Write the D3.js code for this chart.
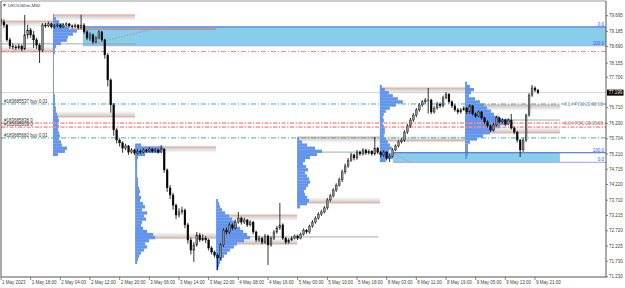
<!DOCTYPE html>
<html><head><meta charset="utf-8">
<script src="https://cdn.jsdelivr.net/npm/d3@7"></script>
<style>body{margin:0;background:#fff;} svg{display:block;} text{font-family:"Liberation Sans",Arial,sans-serif;}</style>
</head><body><svg id="c" width="625" height="288"></svg>
<script>
// ---------------- DATA ----------------
const symbolTitle = "UKOUSDm,M30";
const timeLabels = ["1 May 2023","1 May 18:00","2 May 04:00","2 May 12:00","2 May 20:00","3 May 06:00","3 May 14:00","3 May 22:00","4 May 08:00","4 May 16:00","5 May 00:00","5 May 10:00","5 May 18:00","8 May 03:00","8 May 11:00","8 May 19:00","9 May 05:00","9 May 13:00","9 May 21:00"];
const priceTicks = [79.695,79.185,78.690,78.155,77.700,76.710,76.200,75.704,75.210,74.715,74.220,73.710,73.215,72.720,72.225,71.730,71.230];
const priceTickLabels = ["79.695","79.185","78.690","78.155","77.700","76.710","76.200","75.704","75.210","74.715","74.220","73.710","73.215","72.720","72.225","71.730","71.230"];
const firstOpen = 79.55;
const closes = [
79.49,79.39,78.91,78.71,78.68,78.65,78.71,78.61,79.07,79.23,
79.07,78.91,78.74,78.58,79.39,79.36,79.43,79.33,79.36,79.39,
79.33,79.39,79.43,79.36,79.33,79.39,79.30,79.39,79.17,78.97,
79.07,78.84,78.97,79.17,78.91,78.42,77.61,76.80,75.99,75.66,
75.57,75.40,75.47,75.27,75.34,75.24,75.30,75.27,75.34,75.30,
75.37,75.30,75.34,75.27,75.37,74.69,74.11,73.88,73.55,73.23,
73.33,73.39,72.91,72.42,72.09,72.26,72.58,72.42,72.48,72.42,
72.16,72.03,71.93,71.84,72.26,72.74,72.68,72.91,72.81,73.00,
73.13,73.00,73.07,72.91,73.00,72.68,72.42,72.48,72.35,72.55,
72.26,72.48,72.68,72.81,72.91,72.48,72.35,72.42,72.48,72.55,
72.48,72.61,72.74,72.68,72.87,73.00,73.13,73.26,73.33,73.46,
73.72,73.85,74.04,74.20,74.37,74.63,74.82,75.01,75.18,75.08,
75.27,75.21,75.34,75.24,75.30,75.21,75.40,75.27,75.18,75.27,
75.08,75.14,75.34,75.47,75.60,75.66,75.92,76.12,76.31,76.47,
76.64,76.80,76.90,76.96,76.96,76.57,76.70,76.83,76.77,77.03,
77.15,76.90,76.77,76.64,76.57,76.64,76.70,76.57,76.77,76.51,
76.44,76.57,76.38,76.25,76.12,75.99,76.15,76.38,76.25,76.31,
76.18,76.31,76.05,75.92,75.66,75.34,75.66,76.47,77.12,77.35,
77.28,77.20];
const highs = [
79.62,79.58,79.42,78.98,78.80,78.75,78.78,78.76,79.72,79.40,
79.30,79.20,78.98,78.80,79.45,79.46,79.50,79.47,79.42,79.45,
79.43,79.44,79.48,79.46,79.41,79.44,79.42,79.72,79.45,79.22,
79.15,79.12,79.03,79.22,79.20,78.95,78.48,77.66,76.86,76.05,
75.72,75.62,75.54,75.50,75.40,75.38,75.36,75.35,75.39,75.37,
75.42,75.40,75.39,75.37,75.50,75.40,74.74,74.20,73.95,73.60,
73.45,73.50,73.44,72.98,72.50,72.35,72.68,72.65,72.60,72.55,
72.46,72.22,72.08,71.98,72.32,72.80,72.82,72.98,72.96,73.08,
73.33,73.18,73.14,73.10,73.06,73.04,72.72,72.56,72.52,72.62,
72.60,72.54,72.74,72.88,73.62,72.96,72.52,72.48,72.54,72.60,
72.60,72.66,72.80,72.78,72.92,73.06,73.19,73.32,73.40,73.52,
73.78,73.92,74.10,74.26,74.44,74.70,74.90,75.08,75.25,75.22,
75.34,75.32,75.40,75.38,75.36,75.34,75.76,75.44,75.31,75.33,
75.30,75.20,75.40,75.52,75.66,75.72,75.98,76.18,76.38,76.54,
76.70,76.86,76.96,77.02,77.35,77.00,76.76,76.90,76.88,77.10,
77.22,77.18,76.95,76.82,76.70,76.70,76.76,76.74,76.82,76.80,
76.56,76.62,76.60,76.42,76.30,76.16,76.22,76.44,76.42,76.37,
76.35,76.36,76.51,76.10,75.96,75.70,75.72,76.52,77.18,77.45,
77.40,77.32];
const lows = [
79.40,79.30,78.85,78.62,78.60,78.58,78.60,78.55,78.58,78.95,
78.98,78.65,78.62,78.16,78.52,79.30,79.32,79.28,79.28,79.32,
79.28,79.30,79.35,79.31,79.27,79.29,79.24,79.25,79.10,78.90,
78.88,78.78,78.80,78.93,78.85,78.30,77.40,76.55,75.80,75.55,
75.45,75.25,75.33,75.18,75.22,75.18,75.20,75.21,75.23,75.25,
75.26,75.25,75.26,75.22,75.24,74.60,73.98,73.75,73.40,73.10,
73.15,73.25,72.80,72.30,71.95,71.71,72.20,72.35,72.38,72.32,
72.08,71.95,71.85,71.45,71.78,72.20,72.60,72.62,72.74,72.76,
72.95,72.92,72.94,72.84,72.86,72.60,72.35,72.36,72.28,72.30,
71.61,72.20,72.42,72.62,72.75,72.42,72.28,72.30,72.38,72.44,
72.42,72.44,72.56,72.62,72.63,72.82,72.95,73.08,73.20,73.28,
73.40,73.66,73.80,73.98,74.15,74.30,74.56,74.76,74.95,75.00,
75.02,75.15,75.16,75.18,75.19,75.15,75.16,75.20,75.10,75.12,
75.00,74.95,75.10,75.30,75.42,75.55,75.60,75.86,76.06,76.25,
76.40,76.58,76.74,76.84,76.52,76.50,76.52,76.65,76.70,76.72,
76.98,76.84,76.70,76.58,76.50,76.52,76.60,76.50,76.52,76.45,
76.38,76.40,76.32,76.18,76.06,75.92,75.94,76.10,76.20,76.20,
76.12,76.14,76.00,75.85,75.58,75.11,75.28,75.60,76.42,77.06,
77.22,77.15];
const currentPrice = 77.199;

// session volume profiles (bar positions, price rows of 0.1)
const profileStartBar = [-0.4, 17.5, 45.2, 72.5, 99.8, 127.7, 156.4];
const profileEndBar   = [17.5, 45.2, 72.5, 99.8, 127.7, 156.4, 188.4];
const profileTopPrice = [null, 79.70, 75.50, 73.70, 75.70, 77.40, 77.50];
const profileVolumes = [
  [],
  [1,3,6,11,16,24,20,15,14,8,3,2,2,1,1,1,1,1,1,1,1,1,1,1,1,1,2,2,2,2,3,3,4,5,6,5,6,5,6,7,6,8,9,14,12,5],
  [6,28,25,10,3,2,2,2,2,2,2,3,3,3,4,5,4,6,5,8,10,7,12,9,11,7,6,8,12,18,20,14,10,12,9,6,4,3,2],
  [2,3,4,6,9,13,16,19,21,24,27,31,34,28,21,18,14,11,8,6,4,3,2],
  [2,5,10,18,25,20,13,8,6,9,11,8,10,12,13,11,9,7,8,10,12,10,3],
  [2,5,9,13,18,23,16,10,6,4,3,4,3,4,5,5,4,6,8,10,12,9,11,13,6],
  [2,5,9,6,4,10,15,19,22,26,29,34,45,42,35,30,25,18,12,5,3,3,3,3,2]
];
const rowStep = 0.1;
const vaHighPrice = [79.52, 79.72, 75.44, 73.23, 75.76, 77.35, 76.80];
const vaLowPrice  = [78.52, 76.41, 72.48, 72.29, 73.62, 75.63, 75.89];
const pocPrice    = [78.78, 79.26, null, 72.52, 75.27, null, 76.31];
const pocEndBar   = [45.5, 72.5, null, 127.2, 127.7, null, 188.4];

// fibonacci zones
const fiboTop    = [79.33, 75.25];
const fiboBottom = [78.72, 74.94];
const fiboStartBar = [27.6, 132.1];
const fiboFillEndBar = [205, 188.4];
const fiboTopLabel = ["0.0", "100.0"];
const fiboBottomLabel = ["100.0", "0.0"];
const trendFrom = [[31.7, 78.80], [132.1, 75.25]];
const trendTo   = [[54.6, 79.34], [137.8, 74.94]];

// horizontal order / level lines
const redLevel = 78.53;
const tealLevels = [76.83, 75.73];
const pinkLevels = [76.21, 76.08];
const orderLabels = [
  {text:"#183685537 buy 0.01", price:76.83},
  {text:"#183685838 0", price:76.21},
  {text:"#183685839 0", price:76.08},
  {text:"#183685682 buy 0.01", price:75.73}
];
const pocLabels = [
  {text:"0.1 / POC 23:00:00", price:76.83},
  {text:"0.0 / POC 23:05:08", price:76.21}
];

// ---------------- CHART ----------------
const L = 1, R = 606, T = 1, B = 277;
const svg = d3.select("#c");
const x = d3.scaleLinear().domain([0, 180]).range([1, 535]);
const y = d3.scaleLinear().domain([71.22, 80.17]).range([B, T]);
const vw = d3.scaleLinear().domain([0, 45]).range([0, 45]);
const opens = [firstOpen].concat(closes.slice(0, -1));

const defs = svg.append("defs");
defs.append("clipPath").attr("id","plot").append("rect")
  .attr("x", L).attr("y", T).attr("width", R - L).attr("height", B - T);
const gDown = defs.append("linearGradient").attr("id","bandDown").attr("x1",0).attr("y1",0).attr("x2",0).attr("y2",1);
gDown.append("stop").attr("offset","0%").attr("stop-color","#c4c4c4");
gDown.append("stop").attr("offset","100%").attr("stop-color","#ffffff");
const gUp = defs.append("linearGradient").attr("id","bandUp").attr("x1",0).attr("y1",0).attr("x2",0).attr("y2",1);
gUp.append("stop").attr("offset","0%").attr("stop-color","#ffffff");
gUp.append("stop").attr("offset","100%").attr("stop-color","#c4c4c4");

svg.append("rect").attr("width",625).attr("height",288).attr("fill","#fff");
const plot = svg.append("g").attr("clip-path","url(#plot)");

// fibo fills
fiboTop.forEach((p, k) => {
  const xe = Math.min(x(fiboFillEndBar[k]), R);
  plot.append("rect").attr("x", x(fiboStartBar[k])).attr("y", y(p))
    .attr("width", xe - x(fiboStartBar[k])).attr("height", y(fiboBottom[k]) - y(p))
    .attr("fill", "#87ceeb");
});

// value-area bands
const bandH = 6;
profileStartBar.forEach((s, k) => {
  const x0 = Math.max(x(s), L), x1 = x(profileEndBar[k]);
  plot.append("rect").attr("x", x0).attr("y", y(vaHighPrice[k])).attr("width", x1 - x0).attr("height", bandH).attr("fill","url(#bandDown)");
  plot.append("rect").attr("x", x0).attr("y", y(vaLowPrice[k]) - bandH).attr("width", x1 - x0).attr("height", bandH).attr("fill","url(#bandUp)");
  plot.append("line").attr("x1", x0).attr("x2", x1).attr("y1", y(vaHighPrice[k])).attr("y2", y(vaHighPrice[k])).attr("stroke","#f2a48e").attr("stroke-width",0.9);
  plot.append("line").attr("x1", x0).attr("x2", x1).attr("y1", y(vaLowPrice[k])).attr("y2", y(vaLowPrice[k])).attr("stroke","#f2a48e").attr("stroke-width",0.9);
});

// bid line
plot.append("line").attr("x1", L).attr("x2", R).attr("y1", y(currentPrice)).attr("y2", y(currentPrice)).attr("stroke","#c8c8c8").attr("stroke-width",0.8);

// POC lines
pocPrice.forEach((p, k) => {
  if (p == null) return;
  plot.append("line").attr("x1", Math.max(x(profileStartBar[k]), L)).attr("x2", x(pocEndBar[k]))
    .attr("y1", y(p)).attr("y2", y(p))
    .attr("stroke", k === 1 ? "#d9605a" : "#8fa89c").attr("stroke-width", 0.9);
});

// histograms
profileVolumes.forEach((vols, k) => {
  const x0 = x(profileStartBar[k]);
  plot.append("g").selectAll("rect").data(vols).join("rect")
    .attr("x", x0)
    .attr("y", (v, j) => y(profileTopPrice[k] - j * rowStep + rowStep / 2))
    .attr("width", v => vw(v))
    .attr("height", y(0) - y(rowStep) + 0.2)
    .attr("fill", "#6495ed");
});

// fibo border lines and trend lines
fiboTop.forEach((p, k) => {
  plot.append("line").attr("x1", x(fiboStartBar[k])).attr("x2", R).attr("y1", y(p)).attr("y2", y(p)).attr("stroke","#3f5fe0").attr("stroke-width",1);
  plot.append("line").attr("x1", x(fiboStartBar[k])).attr("x2", R).attr("y1", y(fiboBottom[k])).attr("y2", y(fiboBottom[k])).attr("stroke","#a9b0ff").attr("stroke-width",1.2);
  plot.append("line").attr("x1", x(trendFrom[k][0])).attr("y1", y(trendFrom[k][1]))
    .attr("x2", x(trendTo[k][0])).attr("y2", y(trendTo[k][1]))
    .attr("stroke","#e07070").attr("stroke-width",0.8).attr("stroke-dasharray","1.5,1.5");
});

// level lines
const dashDot = "5,2,1,2";
plot.append("line").attr("x1", L).attr("x2", R).attr("y1", y(redLevel)).attr("y2", y(redLevel))
  .attr("stroke","#ff8080").attr("stroke-width",1).attr("stroke-dasharray", dashDot);
tealLevels.forEach(p => plot.append("line").attr("x1", L).attr("x2", R).attr("y1", y(p)).attr("y2", y(p))
  .attr("stroke","#3fb3b0").attr("stroke-width",1).attr("stroke-dasharray", dashDot));
pinkLevels.forEach(p => plot.append("line").attr("x1", L).attr("x2", R).attr("y1", y(p)).attr("y2", y(p))
  .attr("stroke","#ff8f8f").attr("stroke-width",1.8).attr("stroke-dasharray", "4,1.5,1.5,1.5").attr("opacity",0.85));

// candles
const candles = plot.append("g");
closes.forEach((c, i) => {
  const o = opens[i];
  candles.append("line").attr("x1", x(i)).attr("x2", x(i)).attr("y1", y(highs[i])).attr("y2", y(lows[i]))
    .attr("stroke","#000").attr("stroke-width",0.8);
  const top = y(Math.max(o, c)), bot = y(Math.min(o, c));
  candles.append("rect").attr("x", x(i) - 0.9).attr("width", 1.8)
    .attr("y", top).attr("height", Math.max(bot - top, 0.6))
    .attr("fill", c >= o ? "#8a8a8a" : "#000").attr("stroke","#111").attr("stroke-width",0.4);
});

// texts in plot
const fs = 4.5;
orderLabels.forEach(d => plot.append("text").attr("x", 4).attr("y", y(d.price) - 1.2)
  .attr("font-size", fs).attr("fill","#333").text(d.text));
pocLabels.forEach(d => plot.append("text").attr("x", 603).attr("y", y(d.price) + 1.8)
  .attr("text-anchor","end").attr("font-size", fs).attr("fill","#8a8a8a").text(d.text));
fiboTop.forEach((p, k) => {
  plot.append("text").attr("x", 604).attr("y", y(p) - 0.8).attr("text-anchor","end").attr("font-size", fs).attr("fill","#4747ff").text(fiboTopLabel[k]);
  plot.append("text").attr("x", 604).attr("y", y(fiboBottom[k]) - 1.2).attr("text-anchor","end").attr("font-size", fs).attr("fill","#4747ff").text(fiboBottomLabel[k]);
});

// frame
svg.append("line").attr("x1", L).attr("x2", R).attr("y1", T).attr("y2", T).attr("stroke","#9a9a9a").attr("stroke-width",1);
svg.append("line").attr("x1", L).attr("x2", L).attr("y1", T).attr("y2", B).attr("stroke","#555").attr("stroke-width",1);
svg.append("line").attr("x1", R).attr("x2", R).attr("y1", T).attr("y2", B + 0.5).attr("stroke","#555").attr("stroke-width",1);
svg.append("line").attr("x1", L).attr("x2", R).attr("y1", B).attr("y2", B).attr("stroke","#555").attr("stroke-width",1);

// title
svg.append("path").attr("d", "M3,4.2 L6,4.2 L4.5,6.4 Z").attr("fill","#333");
svg.append("text").attr("x", 8).attr("y", 7.2).attr("font-size", 4.4).attr("fill","#333").text(symbolTitle);

// y axis
priceTicks.forEach((v, k) => {
  svg.append("line").attr("x1", R).attr("x2", R + 2).attr("y1", y(v)).attr("y2", y(v)).attr("stroke","#555").attr("stroke-width",0.7);
  svg.append("text").attr("x", R + 3).attr("y", y(v) + 1.6).attr("font-size", fs).attr("fill","#444").text(priceTickLabels[k]);
});
svg.append("rect").attr("x", R + 1).attr("y", y(currentPrice) - 3).attr("width", 16.5).attr("height", 6).attr("fill","#000");
svg.append("text").attr("x", R + 2.5).attr("y", y(currentPrice) + 1.6).attr("font-size", fs).attr("fill","#fff").text(currentPrice.toFixed(3));

// x axis
timeLabels.forEach((t, k) => {
  const xx = x(k * 10);
  svg.append("line").attr("x1", xx).attr("x2", xx).attr("y1", B).attr("y2", B + 3).attr("stroke","#555").attr("stroke-width",0.7);
  svg.append("text").attr("x", xx + 1).attr("y", 284).attr("font-size", fs).attr("fill","#444").text(t);
});
</script>
</body></html>
